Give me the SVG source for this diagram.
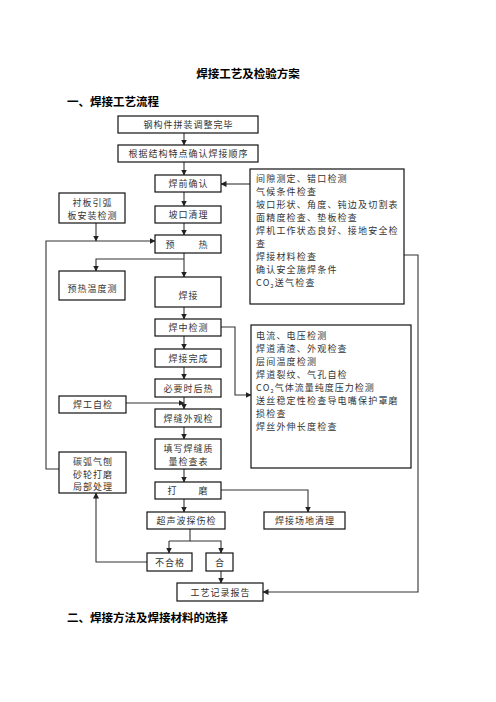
<svg xmlns="http://www.w3.org/2000/svg" width="496" height="702" viewBox="0 0 496 702">
<defs>
<marker id="ah" markerWidth="6" markerHeight="6" refX="5.5" refY="3" orient="auto" markerUnits="userSpaceOnUse">
<path d="M0,0 L6,3 L0,6 Z" fill="#222"/>
</marker>
<style>
.b{fill:#fff;stroke:#111;stroke-width:1.2}
.t{font-family:"Noto Sans CJK SC","Noto Sans CJK JP",sans-serif;font-size:9px;letter-spacing:1px;fill:#333;text-anchor:middle}
.l{font-family:"Noto Sans CJK SC","Noto Sans CJK JP",sans-serif;font-size:9px;letter-spacing:1.2px;fill:#333}
.h{font-family:"Noto Sans CJK SC","Noto Sans CJK JP",sans-serif;font-weight:bold;fill:#000}
.c{fill:none;stroke:#333;stroke-width:1.1}
.a{fill:none;stroke:#333;stroke-width:1.1;marker-end:url(#ah)}
</style>
</defs>
<rect width="496" height="702" fill="#fff"/>
<text class="h" x="248" y="78" font-size="11.5" text-anchor="middle">焊接工艺及检验方案</text>
<text class="h" x="67" y="106" font-size="11.5">一、焊接工艺流程</text>
<text class="h" x="67" y="622" font-size="11.5">二、焊接方法及焊接材料的选择</text>

<g id="connectors">
<path class="a" d="M184,133 V145"/>
<path class="a" d="M184,162 V175"/>
<path class="a" d="M184,192 V206"/>
<path class="a" d="M184,223 V235"/>
<path class="a" d="M184,253 V277"/>
<path class="a" d="M184,259 H96 V271"/>
<path class="a" d="M184,307 V319"/>
<path class="a" d="M184,336 V349"/>
<path class="a" d="M184,367 V379"/>
<path class="a" d="M184,397 V409"/>
<path class="a" d="M184,427 V439"/>
<path class="a" d="M184,469 V482"/>
<path class="a" d="M184,499 V512"/>
<path class="a" d="M250,184 H221"/>
<path class="a" d="M404,255 H418 V592 H263"/>
<path class="a" d="M221,327 H235 V395 H251"/>
<path class="a" d="M126,403 H184"/>
<path class="a" d="M96,223 V241"/>
<path class="a" d="M59,469 H46 V241 H155"/>
<path class="a" d="M220,490 H308 V512"/>
<path class="c" d="M190,529 V541 H169"/>
<path class="a" d="M169,541 V553"/>
<path class="a" d="M190,541 H221 V553"/>
<path class="a" d="M221,571 V583"/>
<path class="a" d="M147,562 H96 V493"/>
</g>

<g id="n1"><rect class="b" x="118" y="116" width="140" height="17"/><text class="t" x="188.5" y="128">钢构件拼装调整完毕</text></g>
<g id="n2"><rect class="b" x="118" y="145" width="140" height="17"/><text class="t" x="188.5" y="157">根据结构特点确认焊接顺序</text></g>
<g id="n3"><rect class="b" x="155" y="175" width="66" height="17"/><text class="t" x="188.5" y="187">焊前确认</text></g>
<g id="n4"><rect class="b" x="155" y="206" width="66" height="17"/><text class="t" x="188.5" y="218">坡口清理</text></g>
<g id="n5"><rect class="b" x="155" y="235" width="66" height="18"/><text class="t" x="170.5" y="248">预</text><text class="t" x="203.5" y="248">热</text></g>
<g id="n6"><rect class="b" x="155" y="277" width="66" height="30"/><text class="t" x="188.5" y="299">焊接</text></g>
<g id="n7"><rect class="b" x="155" y="319" width="66" height="17"/><text class="t" x="188.5" y="331">焊中检测</text></g>
<g id="n8"><rect class="b" x="155" y="349" width="66" height="18"/><text class="t" x="188.5" y="362">焊接完成</text></g>
<g id="n9"><rect class="b" x="155" y="379" width="66" height="18"/><text class="t" x="188.5" y="392">必要时后热</text></g>
<g id="n10"><rect class="b" x="155" y="409" width="66" height="18"/><text class="t" x="188.5" y="422">焊缝外观检</text></g>
<g id="n11"><rect class="b" x="155" y="439" width="66" height="30"/><text class="t" x="188.5" y="452">填写焊缝质</text><text class="t" x="188.5" y="465">量检查表</text></g>
<g id="n12"><rect class="b" x="155" y="482" width="66" height="17"/><text class="t" x="172.5" y="494">打</text><text class="t" x="203.5" y="494">磨</text></g>
<g id="n13"><rect class="b" x="147" y="512" width="78" height="17"/><text class="t" x="186.5" y="524">超声波探伤检</text></g>
<g id="n14"><rect class="b" x="264" y="512" width="81" height="17"/><text class="t" x="305" y="524">焊接场地清理</text></g>
<g id="n15"><rect class="b" x="147" y="553" width="45" height="18"/><text class="t" x="170" y="566">不合格</text></g>
<g id="n16"><rect class="b" x="206" y="553" width="27" height="18"/><text class="t" x="220" y="566">合</text></g>
<g id="n17"><rect class="b" x="177" y="583" width="86" height="18"/><text class="t" x="220.5" y="596">工艺记录报告</text></g>

<g id="n18"><rect class="b" x="59" y="193" width="66" height="30"/><text class="t" x="92.5" y="206">衬板引弧</text><text class="t" x="92.5" y="219">板安装检测</text></g>
<g id="n19"><rect class="b" x="59" y="271" width="66" height="29"/><text class="t" x="92.5" y="292">预热温度测</text></g>
<g id="n20"><rect class="b" x="59" y="396" width="67" height="17"/><text class="t" x="93" y="408">焊工自检</text></g>
<g id="n21"><rect class="b" x="59" y="452" width="67" height="41"/><text class="t" x="93" y="465">碳弧气刨</text><text class="t" x="93" y="477.5">砂轮打磨</text><text class="t" x="93" y="490">局部处理</text></g>

<g id="n22"><rect class="b" x="250" y="169" width="154" height="135"/>
<text class="l" x="256" y="182">间隙测定、错口检测</text>
<text class="l" x="256" y="195">气候条件检查</text>
<text class="l" x="256" y="208">坡口形状、角度、钝边及切割表</text>
<text class="l" x="256" y="221">面精度检查、垫板检查</text>
<text class="l" x="256" y="234">焊机工作状态良好、接地安全检</text>
<text class="l" x="256" y="247">查</text>
<text class="l" x="256" y="260">焊接材料检查</text>
<text class="l" x="256" y="273">确认安全施焊条件</text>
<text class="l" x="256" y="286" letter-spacing="0">CO<tspan font-size="5.5" dy="2">2</tspan><tspan dy="-2" letter-spacing="1.2">送气检查</tspan></text>
</g>
<g id="n23"><rect class="b" x="251" y="325" width="160" height="143"/>
<text class="l" x="256" y="339">电流、电压检测</text>
<text class="l" x="256" y="352">焊道清渣、外观检查</text>
<text class="l" x="256" y="365">层间温度检测</text>
<text class="l" x="256" y="378">焊道裂纹、气孔自检</text>
<text class="l" x="256" y="391" letter-spacing="0">CO<tspan font-size="5.5" dy="2">2</tspan><tspan dy="-2" letter-spacing="1">气体流量纯度压力检测</tspan></text>
<text class="l" x="256" y="404" letter-spacing="1.8">送丝稳定性检查导电嘴保护罩磨</text>
<text class="l" x="256" y="417">损检查</text>
<text class="l" x="256" y="430">焊丝外伸长度检查</text>
</g>
</svg>
